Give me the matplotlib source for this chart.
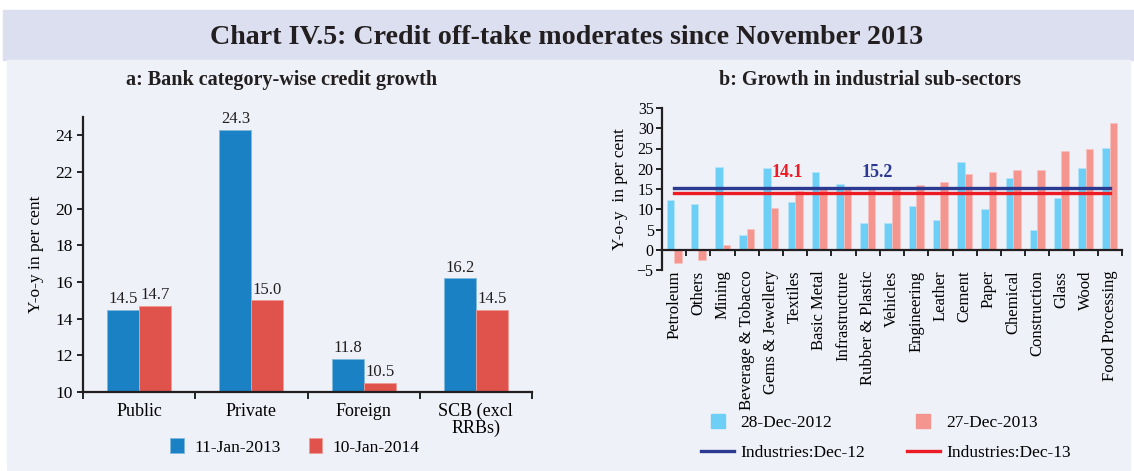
import numpy as np
import matplotlib.pyplot as plt
from matplotlib.patches import Rectangle
from matplotlib.lines import Line2D

plt.rcParams['font.family'] = ['Liberation Serif', 'DejaVu Serif']

# panel a data
banks = ['Public', 'Private', 'Foreign', 'SCB (excl\nRRBs)']
jan13 = [14.5, 24.3, 11.8, 16.2]
jan14 = [14.7, 15.0, 10.5, 14.5]

# panel b data
sectors = ['Petroleum', 'Others', 'Mining', 'Beverage & Tobacco', 'Gems & Jewellery',
           'Textiles', 'Basic Metal', 'Infrastructure', 'Rubber & Plastic', 'Vehicles',
           'Engineering', 'Leather', 'Cement', 'Paper', 'Chemical', 'Construction',
           'Glass', 'Wood', 'Food Processing']
dec12 = [12.4, 11.4, 20.5, 3.6, 20.2, 11.7, 19.3, 16.3, 6.6, 6.6,
         10.7, 7.4, 21.6, 10.1, 17.6, 5.0, 12.8, 20.1, 25.2]
dec13 = [-3.2, -2.5, 1.2, 5.2, 10.2, 14.5, 14.9, 15.1, 15.6, 15.5,
         16.1, 16.7, 18.6, 19.1, 19.8, 19.8, 24.3, 24.8, 31.3]
ind_dec12 = 15.2
ind_dec13 = 14.1

W, H = 1134, 471
fig = plt.figure(figsize=(W / 100, H / 100), dpi=100, facecolor='white')

# background bands
fig.patches.append(Rectangle((3 / W, 1 - 60 / H), 1 - 3 / W, 50 / H,
                             transform=fig.transFigure, color='#dcdff0', zorder=-5))
fig.patches.append(Rectangle((7 / W, 1 - 470 / H), 1 - 11 / W, 410 / H,
                             transform=fig.transFigure, color='#eef1f8', zorder=-5))

fig.text(0.5, 1 - 37 / H, 'Chart IV.5: Credit off-take moderates since November 2013',
         ha='center', va='center', fontsize=20.2, fontweight='bold', color='#231f20')
fig.text(282 / W, 1 - 80 / H, 'a: Bank category-wise credit growth',
         ha='center', va='center', fontsize=14.5, fontweight='bold', color='#231f20')
fig.text(870 / W, 1 - 80 / H, 'b: Growth in industrial sub-sectors',
         ha='center', va='center', fontsize=14.5, fontweight='bold', color='#231f20')

# ---- panel a
ax1 = fig.add_axes([83 / W, 1 - 392 / H, (532 - 83) / W, (392 - 117) / H])
ax1.set_facecolor('none')
x = np.arange(len(banks))
bw = 0.285
b1 = ax1.bar(x - bw / 2, np.array(jan13) - 10, bw, bottom=10, color='#1a82c4',
             edgecolor='#7fb7de', linewidth=0.6, label='11-Jan-2013')
b2 = ax1.bar(x + bw / 2, np.array(jan14) - 10, bw, bottom=10, color='#e0524c',
             edgecolor='#f09a96', linewidth=0.6, label='10-Jan-2014')
for xi, v in zip(x - bw / 2, jan13):
    ax1.text(xi, v + 0.15, f'{v:.1f}', ha='center', va='bottom', fontsize=12, color='#231f20')
for xi, v in zip(x + bw / 2, jan14):
    ax1.text(xi, v + 0.15, f'{v:.1f}', ha='center', va='bottom', fontsize=12, color='#231f20')
ax1.set_xlim(-0.5, len(banks) - 0.5)
ax1.set_ylim(10, 25)
ax1.set_yticks(range(10, 25, 2))
ax1.set_xticks(x)
ax1.set_xticklabels(banks, fontsize=13, linespacing=0.95)
ax1.set_xticks(np.arange(-0.5, len(banks)), minor=True)
ax1.tick_params(axis='x', which='major', length=0, pad=8)
ax1.tick_params(axis='x', which='minor', length=5, direction='out', width=1.2)
ax1.tick_params(axis='y', labelsize=12.5, length=4, width=1.2, direction='out')
for s in ['top', 'right']:
    ax1.spines[s].set_visible(False)
for s in ['left', 'bottom']:
    ax1.spines[s].set_linewidth(1.6)
    ax1.spines[s].set_color('#231f20')
ax1.set_ylabel('Y-o-y in per cent', fontsize=12.5, labelpad=8)
ax1.legend(handles=[b1, b2], loc='center', bbox_to_anchor=(295 / W, 1 - 447 / H),
           bbox_transform=fig.transFigure, ncol=2, frameon=False, fontsize=12.5,
           handlelength=0.8, handleheight=0.9, columnspacing=1.6, handletextpad=0.6)

# ---- panel b
ax2 = fig.add_axes([662 / W, 1 - 270 / H, (1122 - 662) / W, (270 - 108) / H])
ax2.set_facecolor('none')
ax2.spines['bottom'].set_position(('data', 0))
xs = np.arange(len(sectors))
bw2 = 0.31
ax2.bar(xs - bw2 / 2, dec12, bw2, color='#6dcff6', edgecolor='#b5e6fa', linewidth=0.5)
ax2.bar(xs + bw2 / 2, dec13, bw2, color='#f4958f', edgecolor='#f9c3c0', linewidth=0.5)
l1, = ax2.plot([xs[0], xs[-1]], [ind_dec12] * 2, color='#2b3990', lw=2.4,
               label='Industries:Dec-12')
l2, = ax2.plot([xs[0], xs[-1]], [ind_dec13] * 2, color='#ed1c24', lw=2.4,
               label='Industries:Dec-13')
ax2.text(4.67, 17.0, f'{ind_dec13:.1f}', color='#ed1c24', fontsize=13, fontweight='bold',
         ha='center', va='bottom')
ax2.text(8.4, 17.0, f'{ind_dec12:.1f}', color='#2b3990', fontsize=13, fontweight='bold',
         ha='center', va='bottom')
ax2.set_xlim(-0.5, len(sectors) - 0.5)
ax2.set_ylim(-5, 35)
ax2.set_yticks(range(-5, 36, 5))
ax2.set_xticks(xs)
ax2.set_xticklabels(sectors, fontsize=12)
ax2.set_xticks(np.arange(-0.5, len(sectors)), minor=True)
ax2.tick_params(axis='x', which='major', length=0, pad=15, labelrotation=90)
ax2.tick_params(axis='x', which='minor', length=4, direction='out', width=1.2)
ax2.tick_params(axis='y', labelsize=11.5, length=4, width=1.2, direction='out', pad=2)
for s in ['top', 'right']:
    ax2.spines[s].set_visible(False)
for s in ['left', 'bottom']:
    ax2.spines[s].set_linewidth(1.6)
    ax2.spines[s].set_color('#231f20')
ax2.set_ylabel('Y-o-y  in per cent', fontsize=12.5, labelpad=6)
h1 = Line2D([], [], ls='none', marker='s', markersize=10, color='#6dcff6', label='28-Dec-2012')
h2 = Line2D([], [], ls='none', marker='s', markersize=10, color='#f4958f', label='27-Dec-2013')
ax2.legend(handles=[h1, l1, h2, l2], loc='center', bbox_to_anchor=(886 / W, 1 - 438 / H),
           bbox_transform=fig.transFigure, ncol=2, frameon=False, fontsize=12.5,
           handlelength=1.9, columnspacing=2.4, handletextpad=0.35, labelspacing=0.75)

fig.savefig('out.png', dpi=100, facecolor=fig.get_facecolor())
